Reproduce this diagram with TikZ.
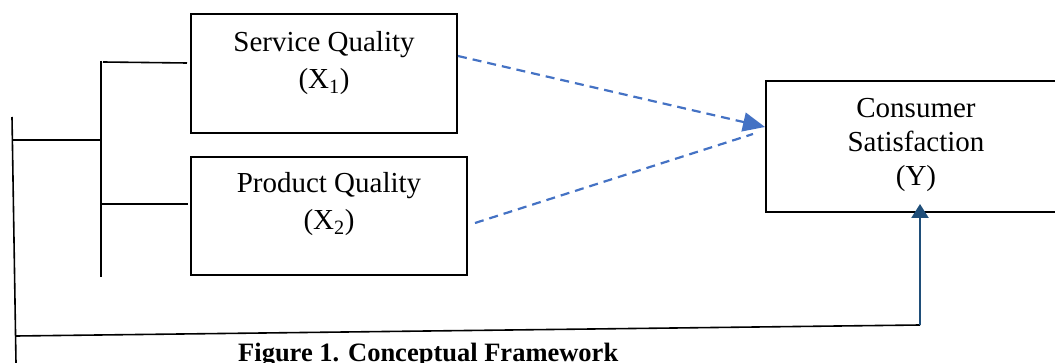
\documentclass[tikz,border=0pt]{standalone}
\usepackage{fontspec}
\setmainfont{Liberation Serif}
\usetikzlibrary{arrows.meta}
\definecolor{dashblue}{HTML}{4472C4}
\definecolor{navyblue}{HTML}{1F4E79}
\begin{document}
\begin{tikzpicture}[x=1pt,y=-1pt,
  box/.style={draw=black,line width=1.8pt,inner sep=0pt,rectangle},
  lbl/.style={inner sep=0pt,align=center,font=\fontsize{29}{37}\selectfont},
  link/.style={draw=black,line width=1.6pt},
  dashlink/.style={draw=dashblue,line width=2.2pt,dash pattern=on 9pt off 6pt},
  dasharrow/.style={dashlink,-{Triangle[length=22pt,width=19pt]}},
  uplink/.style={draw=navyblue,line width=2.4pt,-{Triangle[length=14pt,width=17pt]}},
  caption/.style={inner sep=0pt,font=\fontsize{26.5}{30}\selectfont\bfseries}]
\useasboundingbox (0,0) rectangle (1055,363);
\clip (0,0) rectangle (1055,363);
% boxes
\node[box,minimum width=266pt,minimum height=119pt] (sq) at (324,73.5) {};
\node[box,minimum width=276pt,minimum height=118pt] (pq) at (329,216) {};
\node[box,minimum width=298pt,minimum height=131pt] (cs) at (915,146.5) {};
% labels (base = last line's baseline)
\node[lbl,anchor=base] (sqt) at (324,89) {Service Quality\\(X\textsubscript{1})};
\node[lbl,anchor=base] (pqt) at (329,230) {Product Quality\\(X\textsubscript{2})};
\node[lbl,anchor=base,font=\fontsize{29}{34}\selectfont] (cst) at (916,186) {Consumer\\Satisfaction\\(Y)};
% bracket coordinates
\coordinate (otop) at (12,117);
\coordinate (obot) at (16,363);
\coordinate (omid) at (12,140);
\coordinate (itop) at (101,61);
\coordinate (ibot) at (101,277);
\coordinate (imid) at (101,140);
\coordinate (sqin) at (103,62);
\coordinate (sqend) at (187,63);
\coordinate (pqin) at (100,204);
\coordinate (pqend) at (188,204);
\coordinate (bl) at (16,336);
\coordinate (br) at (920,325);
\coordinate (ytip) at (920,204);
% bracket lines
\draw[link] (otop) -- (obot);
\draw[link] (omid) -- (imid);
\draw[link] (itop) -- (ibot);
\draw[link] (sqin) -- (sqend);
\draw[link] (pqin) -- (pqend);
\draw[link] (bl) -- (br);
\draw[uplink] (br) -- (ytip);
% dashed arrows
\coordinate (d1s) at (458,56);
\coordinate (d1e) at (765,127);
\coordinate (d2s) at (475,223);
\coordinate (d2e) at (753,134);
\draw[dasharrow] (d1s) -- (d1e);
\draw[dashlink] (d2s) -- (d2e);
% caption
\node[caption,anchor=base west] (cap) at (238,361.5) {Figure 1. Conceptual Framework};
\end{tikzpicture}
\end{document}
